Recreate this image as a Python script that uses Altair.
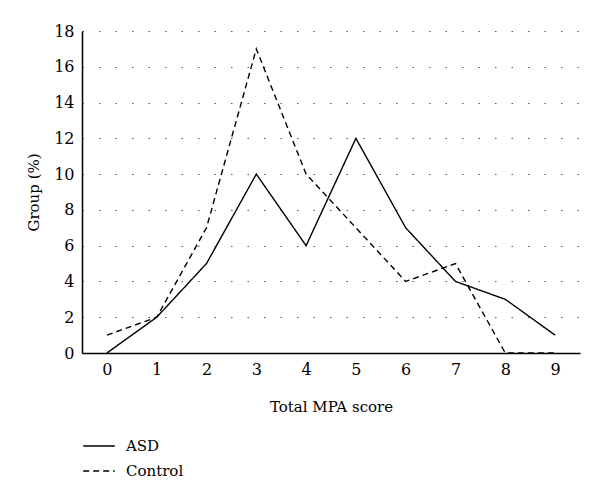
import altair as alt
import pandas as pd

scores = [0, 1, 2, 3, 4, 5, 6, 7, 8, 9]
asd = [0, 2, 5, 10, 6, 12, 7, 4, 3, 1]
control = [1, 2, 7, 17, 10, 7, 4, 5, 0, 0]
series = ["ASD", "Control"]

rows = []
for s, vals in zip(series, [asd, control]):
    for x, v in zip(scores, vals):
        rows.append({"score": x, "value": v, "group": s})
df = pd.DataFrame(rows)

FONT = "DejaVu Serif"

chart = alt.Chart(df).mark_line(color="black", strokeWidth=1.4).encode(
    x=alt.X("score:Q", scale=alt.Scale(domain=[-0.5, 9.5], nice=False, zero=False),
            axis=alt.Axis(values=scores, title="Total MPA score", grid=False, ticks=False,
                          domainColor="black", domainWidth=1.5, labelPadding=8,
                          titlePadding=22, labelFontSize=16, titleFontSize=15,
                          labelFont=FONT, titleFont=FONT, labelColor="black",
                          titleColor="black", titleFontWeight="normal")),
    y=alt.Y("value:Q", scale=alt.Scale(domain=[0, 18], nice=False),
            axis=alt.Axis(values=list(range(0, 19, 2)), title="Group (%)", grid=True,
                          gridDash=[1.5, 15], gridColor="#555", gridWidth=1.2,
                          ticks=False, domainColor="black", domainWidth=1.5,
                          labelPadding=8, titlePadding=12, labelFontSize=16,
                          titleFontSize=15, labelFont=FONT, titleFont=FONT,
                          labelColor="black", titleColor="black",
                          titleFontWeight="normal")),
    strokeDash=alt.StrokeDash("group:N", scale=alt.Scale(domain=series, range=[[1, 0], [6, 4]]),
                              legend=alt.Legend(title=None, orient="none", legendX=0, legendY=398,
                                                symbolType="stroke", symbolStrokeColor="black",
                                                symbolStrokeWidth=1.4, symbolSize=1000,
                                                labelFontSize=15, labelFont=FONT,
                                                labelColor="black", rowPadding=-7,
                                                labelOffset=10)),
    detail="group:N",
).properties(
    width=498, height=322,
    autosize=alt.AutoSizeParams(type="none"),
    padding={"left": 74, "top": 23, "right": 4, "bottom": 141},
).configure_view(stroke=None)

chart.save("out.html", embed_options={"renderer": "svg", "actions": False})
